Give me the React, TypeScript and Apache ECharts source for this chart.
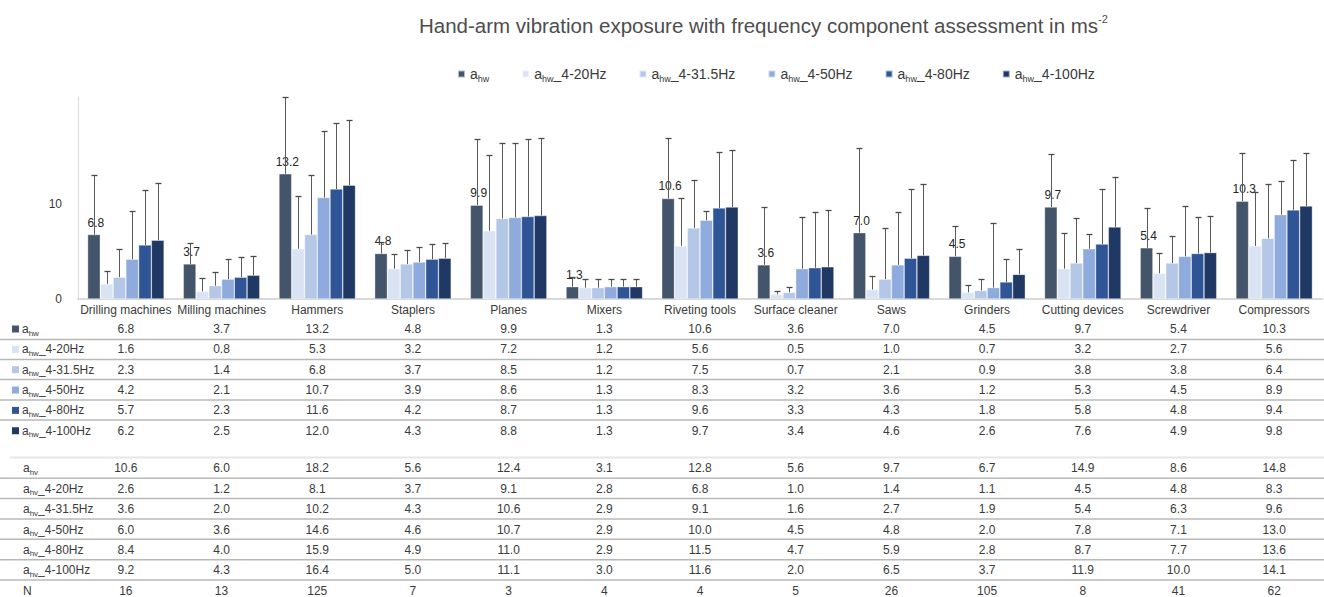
import React, { useEffect, useRef } from "react";
import * as echarts from "echarts";

const categories = [
  "Drilling machines", "Milling machines", "Hammers", "Staplers", "Planes", "Mixers",
  "Riveting tools", "Surface cleaner", "Saws", "Grinders", "Cutting devices", "Screwdriver", "Compressors",
];

const hwNames = ["a_hw", "a_hw_4-20Hz", "a_hw_4-31.5Hz", "a_hw_4-50Hz", "a_hw_4-80Hz", "a_hw_4-100Hz"];
const hvNames = ["a_hv", "a_hv_4-20Hz", "a_hv_4-31.5Hz", "a_hv_4-50Hz", "a_hv_4-80Hz", "a_hv_4-100Hz"];
const yTickLabels = [0, 10];

const ahw = [6.8, 3.7, 13.2, 4.8, 9.9, 1.3, 10.6, 3.6, 7.0, 4.5, 9.7, 5.4, 10.3];
const ahw20 = [1.6, 0.8, 5.3, 3.2, 7.2, 1.2, 5.6, 0.5, 1.0, 0.7, 3.2, 2.7, 5.6];
const ahw315 = [2.3, 1.4, 6.8, 3.7, 8.5, 1.2, 7.5, 0.7, 2.1, 0.9, 3.8, 3.8, 6.4];
const ahw50 = [4.2, 2.1, 10.7, 3.9, 8.6, 1.3, 8.3, 3.2, 3.6, 1.2, 5.3, 4.5, 8.9];
const ahw80 = [5.7, 2.3, 11.6, 4.2, 8.7, 1.3, 9.6, 3.3, 4.3, 1.8, 5.8, 4.8, 9.4];
const ahw100 = [6.2, 2.5, 12.0, 4.3, 8.8, 1.3, 9.7, 3.4, 4.6, 2.6, 7.6, 4.9, 9.8];

const ahv = [10.6, 6.0, 18.2, 5.6, 12.4, 3.1, 12.8, 5.6, 9.7, 6.7, 14.9, 8.6, 14.8];
const ahv20 = [2.6, 1.2, 8.1, 3.7, 9.1, 2.8, 6.8, 1.0, 1.4, 1.1, 4.5, 4.8, 8.3];
const ahv315 = [3.6, 2.0, 10.2, 4.3, 10.6, 2.9, 9.1, 1.6, 2.7, 1.9, 5.4, 6.3, 9.6];
const ahv50 = [6.0, 3.6, 14.6, 4.6, 10.7, 2.9, 10.0, 4.5, 4.8, 2.0, 7.8, 7.1, 13.0];
const ahv80 = [8.4, 4.0, 15.9, 4.9, 11.0, 2.9, 11.5, 4.7, 5.9, 2.8, 8.7, 7.7, 13.6];
const ahv100 = [9.2, 4.3, 16.4, 5.0, 11.1, 3.0, 11.6, 2.0, 6.5, 3.7, 11.9, 10.0, 14.1];
const nCounts = [16, 13, 125, 7, 3, 4, 4, 5, 26, 105, 8, 41, 62];

// upper ends of the error bars
const errAhw = [13.1, 5.9, 21.3, 6.0, 16.9, 2.35, 17.0, 9.7, 15.9, 7.7, 15.3, 9.6, 15.4];
const errAhw20 = [3.0, 2.25, 10.9, 4.7, 15.2, 2.15, 10.7, 0.85, 2.45, 1.5, 7.0, 4.85, 11.25];
const errAhw315 = [5.3, 2.85, 13.1, 5.2, 16.4, 2.15, 12.5, 1.3, 7.45, 2.1, 8.5, 6.6, 12.1];
const errAhw50 = [9.3, 4.2, 17.7, 5.45, 16.5, 2.15, 9.3, 8.6, 9.2, 8.05, 6.9, 9.8, 12.45];
const errAhw80 = [11.5, 4.4, 18.6, 5.8, 16.9, 2.15, 15.5, 9.2, 11.6, 4.25, 11.6, 8.6, 14.7];
const errAhw100 = [12.2, 4.5, 18.9, 5.9, 17.0, 2.15, 15.7, 9.35, 12.1, 5.3, 12.9, 8.75, 15.4];

const hwValues = [ahw, ahw20, ahw315, ahw50, ahw80, ahw100];
const hvValues = [ahv, ahv20, ahv315, ahv50, ahv80, ahv100];
const errValues = [errAhw, errAhw20, errAhw315, errAhw50, errAhw80, errAhw100];
const colors = ["#44546A", "#DAE3F3", "#B4C7E7", "#8FAADC", "#2F5597", "#203864"];

const FONT = "'Liberation Sans', Arial, sans-serif";
const TXT = "#3a3a3a";

function richName(name: string): string {
  const m = name.match(/^a_(h[wv])(.*)$/);
  if (!m) return name;
  return m[2] ? `{a|a}{s|${m[1]}}{a|${m[2]}}` : `{a|a}{s|${m[1]}}`;
}

function richStyles(size: number, sub: number) {
  return {
    a: { fontSize: size, lineHeight: size + 4, fontFamily: FONT, color: TXT, fill: TXT },
    s: { fontSize: sub, lineHeight: sub - 1, verticalAlign: "bottom", fontFamily: FONT, color: TXT, fill: TXT },
  };
}

export default function App() {
  const ref = useRef<HTMLDivElement>(null);

  useEffect(() => {
    if (!ref.current) return;
    const chart = echarts.init(ref.current, undefined, { renderer: "svg" });

    const W = 1324;
    const gridLeft = 78;
    const gridRight = 2;
    const catW = (W - gridLeft - gridRight) / categories.length;
    const colX = (i: number) => gridLeft + (i + 0.5) * catW;

    const graphics: any[] = [];
    // block 1: a_hw rows
    hwNames.forEach((name, r) => {
      const y = 329 + 20.35 * r;
      graphics.push({
        type: "rect",
        shape: { x: 12, y: y - 3.5, width: 7, height: 7 },
        style: { fill: colors[r] },
      });
      graphics.push({
        type: "text",
        x: 22,
        y,
        style: { text: richName(name), rich: richStyles(12, 8), verticalAlign: "middle", fill: TXT },
      });
      hwValues[r].forEach((v, i) => {
        graphics.push({
          type: "text",
          x: colX(i),
          y,
          style: { text: v.toFixed(1), fontSize: 12, fontFamily: FONT, fill: TXT, align: "center", verticalAlign: "middle" },
        });
      });
    });
    [339.5, 359.5, 379.5, 400, 420].forEach((yy) => {
      graphics.push({ type: "line", shape: { x1: 0, y1: yy, x2: W, y2: yy }, style: { stroke: "#b8b8b8", lineWidth: 1.5 } });
    });
    graphics.push({ type: "line", shape: { x1: 10, y1: 457.5, x2: W, y2: 457.5 }, style: { stroke: "#e6e6e6", lineWidth: 2 } });

    // block 2: a_hv rows and N
    hvNames.forEach((name, r) => {
      const y = 468.3 + 20.4 * r;
      graphics.push({
        type: "text",
        x: 23,
        y,
        style: { text: richName(name), rich: richStyles(12, 8), verticalAlign: "middle", fill: TXT },
      });
      hvValues[r].forEach((v, i) => {
        graphics.push({
          type: "text",
          x: colX(i),
          y,
          style: { text: v.toFixed(1), fontSize: 12, fontFamily: FONT, fill: TXT, align: "center", verticalAlign: "middle" },
        });
      });
    });
    const nY = 468.3 + 20.4 * 6;
    graphics.push({
      type: "text",
      x: 23,
      y: nY,
      style: { text: "N", fontSize: 12, fontFamily: FONT, fill: TXT, verticalAlign: "middle" },
    });
    nCounts.forEach((v, i) => {
      graphics.push({
        type: "text",
        x: colX(i),
        y: nY,
        style: { text: String(v), fontSize: 12, fontFamily: FONT, fill: TXT, align: "center", verticalAlign: "middle" },
      });
    });
    [478.3, 498.5, 519, 539.3, 559.7, 580].forEach((yy) => {
      graphics.push({ type: "line", shape: { x1: 0, y1: yy, x2: W, y2: yy }, style: { stroke: "#b8b8b8", lineWidth: 1.5 } });
    });

    const barSeries = hwNames.map((name, k) => ({
      name,
      type: "bar",
      data: hwValues[k],
      barGap: "0%",
      barCategoryGap: "20%",
      itemStyle: { color: colors[k], borderColor: "rgba(255,255,255,0.6)", borderWidth: 0.6 },
      label:
        k === 0
          ? {
              show: true,
              position: "top",
              distance: 6,
              offset: [2, 0],
              fontSize: 12,
              fontFamily: FONT,
              color: "#262626",
              formatter: (p: any) => Number(p.value).toFixed(1),
            }
          : { show: false },
      z: 2,
    }));

    const errSeries = hwNames.map((name, k) => ({
      name: "err_" + name,
      type: "custom",
      data: categories.map((_, i) => [i, hwValues[k][i], errValues[k][i]]),
      encode: { x: 0, y: [1, 2] },
      z: 5,
      silent: true,
      renderItem: (params: any, api: any) => {
        const i = api.value(0);
        const v = api.value(1);
        const t = api.value(2);
        const band = api.size([1, 0])[0];
        const bw = (band * 0.8) / 6;
        const base = api.coord([i, v]);
        const top = api.coord([i, t]);
        const x = Math.round(base[0] - band * 0.4 + (k + 0.5) * bw) + 0.5;
        const ty = Math.round(top[1]) + 0.5;
        const style = { stroke: "#5a5a5a", lineWidth: 1 };
        return {
          type: "group",
          children: [
            { type: "line", shape: { x1: x, y1: base[1], x2: x, y2: ty }, style },
            { type: "line", shape: { x1: x - 3, y1: ty, x2: x + 3, y2: ty }, style: { stroke: "#4a4a4a", lineWidth: 1.3 } },
          ],
        };
      },
    }));

    chart.setOption({
      animation: false,
      backgroundColor: "#ffffff",
      textStyle: { fontFamily: FONT },
      title: {
        text: "{t|Hand-arm vibration exposure with frequency component assessment in ms}{p|-2}",
        left: 414,
        top: 8,
        textStyle: {
          fontWeight: "normal",
          rich: {
            t: { fontSize: 20.5, lineHeight: 24, fontWeight: "normal", color: "#4d4d4d", fontFamily: FONT },
            p: { fontSize: 11, lineHeight: 11, fontWeight: "normal", verticalAlign: "top", color: "#4d4d4d", fontFamily: FONT },
          },
        },
      },
      legend: {
        data: hwNames,
        left: 452,
        top: 62,
        icon: "rect",
        itemWidth: 7,
        itemHeight: 7,
        itemGap: 32,
        formatter: (name: string) => richName(name),
        textStyle: { fontSize: 14, color: TXT, rich: richStyles(14, 9) },
      },
      grid: { left: gridLeft, right: gridRight, top: 97, bottom: 298, containLabel: false, outerBoundsMode: "none" },
      xAxis: {
        type: "category",
        data: categories,
        axisLine: { show: true, lineStyle: { color: "#d9d9d9", width: 2 } },
        axisTick: { show: false },
        axisLabel: { interval: 0, fontSize: 12, color: TXT, margin: 5, fontFamily: FONT },
      },
      yAxis: {
        type: "value",
        min: 0,
        max: 21.3,
        interval: 10,
        axisLine: { show: true, lineStyle: { color: "#d9d9d9", width: 1 } },
        axisTick: { show: false },
        splitLine: { show: false },
        axisLabel: {
          fontSize: 12,
          color: TXT,
          margin: 16,
          fontFamily: FONT,
          showMaxLabel: false,
          formatter: (v: number) => (yTickLabels.indexOf(v) >= 0 ? String(v) : ""),
        },
      },
      series: [...barSeries, ...errSeries],
      graphic: graphics,
    });

    return () => chart.dispose();
  }, []);

  return (
    <div
      ref={ref}
      style={{ position: "absolute", left: 0, top: 0, width: 1324, height: 597, background: "#fff" }}
    />
  );
}
